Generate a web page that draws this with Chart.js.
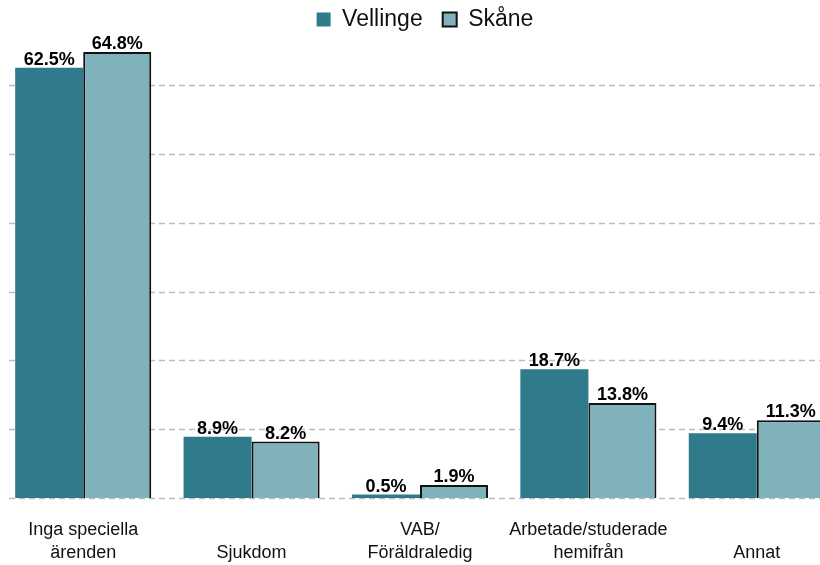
<!DOCTYPE html>
<html lang="sv">
<head>
    <meta charset="UTF-8">
    <title>Vellinge / Skåne</title>
    <script src="https://cdn.jsdelivr.net/npm/chart.js"></script>
    <style>
        html, body { margin: 0; padding: 0; overflow: hidden; background: #fff; }
        /* slightly larger than the window so the bars reach the edges like the original */
        .chart-box { position: absolute; left: -1px; top: -12px; width: 842px; height: 577px; }
    </style>
</head>
<body>
    <div class="chart-box">
        <canvas id="chart"></canvas>
    </div>

    <script>
        // Categories (multi-line, bottom aligned)
        const categories = [
            ["Inga speciella", "ärenden"],
            ["", "Sjukdom"],
            ["VAB/", "Föräldraledig"],
            ["Arbetade/studerade", "hemifrån"],
            ["", "Annat"]
        ];

        // Values in percent
        const vellinge = [62.5, 8.9, 0.5, 18.7, 9.4];
        const skane = [64.8, 8.2, 1.9, 13.8, 11.3];

        // Grid values
        const gridValues = [0, 10, 20, 30, 40, 50, 60];

        const fontFamily = "'Liberation Sans', Arial, sans-serif";

        // Dashed horizontal grid lines
        const gridPlugin = {
            id: "dashedGrid",
            beforeDatasetsDraw(chart) {
                const ctx = chart.ctx;
                const y = chart.scales.y;
                ctx.save();
                ctx.strokeStyle = "#bdbdbd";
                ctx.lineWidth = 1.5;
                ctx.setLineDash([6, 4]);
                gridValues.forEach(v => {
                    const py = Math.round(y.getPixelForValue(v)) + 0.5;
                    ctx.beginPath();
                    ctx.moveTo(10, py);
                    ctx.lineTo(chart.width - 21, py);
                    ctx.stroke();
                });
                ctx.restore();
            }
        };

        // Value labels above each bar
        const labelPlugin = {
            id: "valueLabels",
            afterDatasetsDraw(chart) {
                const ctx = chart.ctx;
                ctx.save();
                ctx.font = "bold 18px " + fontFamily;
                ctx.fillStyle = "#000";
                ctx.textAlign = "center";
                ctx.textBaseline = "alphabetic";
                chart.data.datasets.forEach((ds, i) => {
                    chart.getDatasetMeta(i).data.forEach((bar, j) => {
                        ctx.fillText(ds.data[j].toFixed(1) + "%", bar.x, bar.y - 3);
                    });
                });
                ctx.restore();
            }
        };

        // nudge the legend a few pixels to the right
        const legendShift = {
            id: "legendShift",
            afterLayout(chart) {
                chart.legend.left += 5;
                chart.legend.right += 5;
            }
        };

        new Chart(document.getElementById("chart"), {
            type: "bar",
            data: {
                labels: categories,
                datasets: [
                    {
                        label: "Vellinge",
                        data: vellinge,
                        backgroundColor: "#2f7b8c",
                        borderWidth: 0
                    },
                    {
                        label: "Skåne",
                        data: skane,
                        backgroundColor: "#7fb2bb",
                        borderColor: "#111",
                        borderWidth: 2
                    }
                ]
            },
            options: {
                responsive: true,
                maintainAspectRatio: false,
                animation: false,
                datasets: {
                    bar: { categoryPercentage: 0.808, barPercentage: 1.0 }
                },
                layout: { padding: { top: 0, bottom: 0, left: 0, right: 0 } },
                scales: {
                    x: {
                        grid: { display: false, drawTicks: false },
                        border: { display: false },
                        afterFit(scale) { scale.height = 67; },
                        ticks: {
                            color: "#111",
                            padding: 21,
                            font: { family: fontFamily, size: 18, lineHeight: 1.25 },
                            maxRotation: 0,
                            autoSkip: false
                        }
                    },
                    y: {
                        display: false,
                        min: 0,
                        max: 66.4
                    }
                },
                plugins: {
                    legend: {
                        position: "top",
                        labels: {
                            color: "#111",
                            font: { family: fontFamily, size: 23 },
                            boxWidth: 14,
                            boxHeight: 14,
                            padding: 20
                        }
                    },
                    tooltip: { enabled: false }
                }
            },
            plugins: [gridPlugin, labelPlugin, legendShift]
        });
    </script>
</body>
</html>
